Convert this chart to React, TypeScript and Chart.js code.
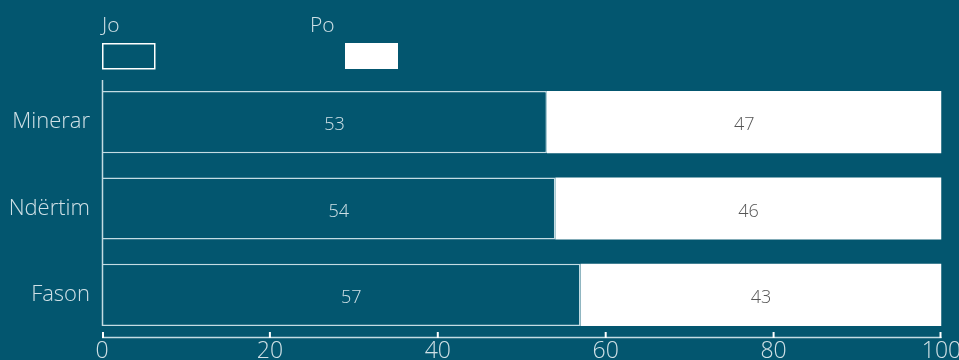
import React, { useEffect, useRef } from "react";
import { Chart, registerables } from "chart.js";

Chart.register(...registerables);

const categories = ["Minerar", "Ndërtim", "Fason"];
const joValues = [53, 54, 57];
const poValues = [47, 46, 43];
const seriesLabels = ["Jo", "Po"];
const xTicks = [0, 20, 40, 60, 80, 100];

const BG = "#03566f";
const TEXT = "#cfe0e6";
const LINE = "#c4dce3";
const FONT = "'Open Sans', 'Noto Sans', sans-serif";

export default function App() {
  const ref = useRef<HTMLCanvasElement | null>(null);

  useEffect(() => {
    document.body.style.margin = "0";
    const canvas = ref.current;
    if (!canvas) return;

    const decor = {
      id: "decor",
      beforeDraw(chart: any) {
        const { ctx, width, height } = chart;
        ctx.save();
        ctx.fillStyle = BG;
        ctx.fillRect(0, 0, width, height);
        ctx.restore();
      },
      afterDraw(chart: any) {
        const { ctx, chartArea } = chart;
        const xs = chart.scales.x;
        ctx.save();
        ctx.strokeStyle = LINE;
        ctx.lineWidth = 1.5;
        ctx.beginPath();
        ctx.moveTo(chartArea.left, chartArea.bottom - 0.5);
        ctx.lineTo(chartArea.right, chartArea.bottom - 0.5);
        ctx.stroke();
        ctx.strokeStyle = "#ffffff";
        ctx.lineWidth = 2;
        xTicks.forEach((v) => {
          const px = Math.min(Math.max(xs.getPixelForValue(v), chartArea.left + 1), chartArea.right - 1);
          ctx.beginPath();
          ctx.moveTo(px, chartArea.bottom - 6);
          ctx.lineTo(px, chartArea.bottom);
          ctx.stroke();
        });
        const meta0 = chart.getDatasetMeta(0);
        const last = meta0.data[meta0.data.length - 1];
        const lastBottom = last.y + last.height / 2;
        ctx.strokeStyle = LINE;
        ctx.lineWidth = 1.5;
        ctx.beginPath();
        ctx.moveTo(chartArea.left + 0.5, chartArea.top + 1);
        ctx.lineTo(chartArea.left + 0.5, lastBottom);
        ctx.stroke();

        ctx.font = `300 18px ${FONT}`;
        ctx.textAlign = "center";
        ctx.textBaseline = "middle";
        chart.data.datasets.forEach((ds: any, di: number) => {
          const meta = chart.getDatasetMeta(di);
          meta.data.forEach((el: any, i: number) => {
            const c = el.getCenterPoint();
            ctx.fillStyle = di === 0 ? TEXT : "#555555";
            ctx.fillText(String(ds.data[i]), c.x + (di === 0 ? 10 : 0), c.y + 3);
          });
        });

        const legendPos = [
          { tx: 102, bx: 102 },
          { tx: 310, bx: 345 },
        ];
        ctx.font = `300 21px ${FONT}`;
        ctx.textAlign = "left";
        ctx.textBaseline = "alphabetic";
        chart.data.datasets.forEach((ds: any, di: number) => {
          const p = legendPos[di];
          ctx.fillStyle = TEXT;
          ctx.fillText(ds.label, p.tx, 32);
          if (di === 0) {
            ctx.strokeStyle = "#ffffff";
            ctx.lineWidth = 1.5;
            ctx.strokeRect(p.bx + 0.75, 43.75, 52, 25);
          } else {
            ctx.fillStyle = "#ffffff";
            ctx.fillRect(p.bx, 43, 53, 26);
          }
        });
        ctx.restore();
      },
    };

    const chart = new Chart(canvas, {
      type: "bar",
      data: {
        labels: categories,
        datasets: [
          {
            label: seriesLabels[0],
            data: joValues,
            backgroundColor: BG,
            borderColor: LINE,
            borderWidth: { top: 1.5, bottom: 1.5, right: 1.5, left: 0 },
            borderSkipped: false,
            categoryPercentage: 0.72,
            barPercentage: 1,
          },
          {
            label: seriesLabels[1],
            data: poValues,
            backgroundColor: "#ffffff",
            borderWidth: 0,
            categoryPercentage: 0.72,
            barPercentage: 1,
          },
        ],
      },
      options: {
        indexAxis: "y",
        animation: false,
        responsive: false,
        maintainAspectRatio: false,
        layout: { padding: { top: 79, right: 17.5, left: 0, bottom: 0 } },
        plugins: {
          legend: { display: false },
          tooltip: { enabled: false },
        },
        scales: {
          x: {
            stacked: true,
            min: 0,
            max: 100,
            afterBuildTicks: (scale: any) => {
              scale.ticks = xTicks.map((v) => ({ value: v }));
            },
            afterFit: (scale: any) => {
              scale.height = 22;
            },
            grid: { display: false },
            border: { display: false },
            ticks: {
              color: TEXT,
              padding: -8,
              autoSkip: false,
              maxRotation: 0,
              font: { family: FONT, size: 23, weight: "300" as any },
            },
          },
          y: {
            stacked: true,
            afterFit: (scale: any) => {
              scale.width = 102;
            },
            grid: { display: false },
            border: { display: false },
            ticks: {
              color: TEXT,
              padding: 4,
              font: { family: FONT, size: 22, weight: "300" as any },
            },
          },
        },
      },
      plugins: [decor],
    });

    return () => chart.destroy();
  }, []);

  return (
    <div style={{ width: 959, height: 360, background: BG }}>
      <canvas ref={ref} width={959} height={360} style={{ display: "block" }} />
    </div>
  );
}
